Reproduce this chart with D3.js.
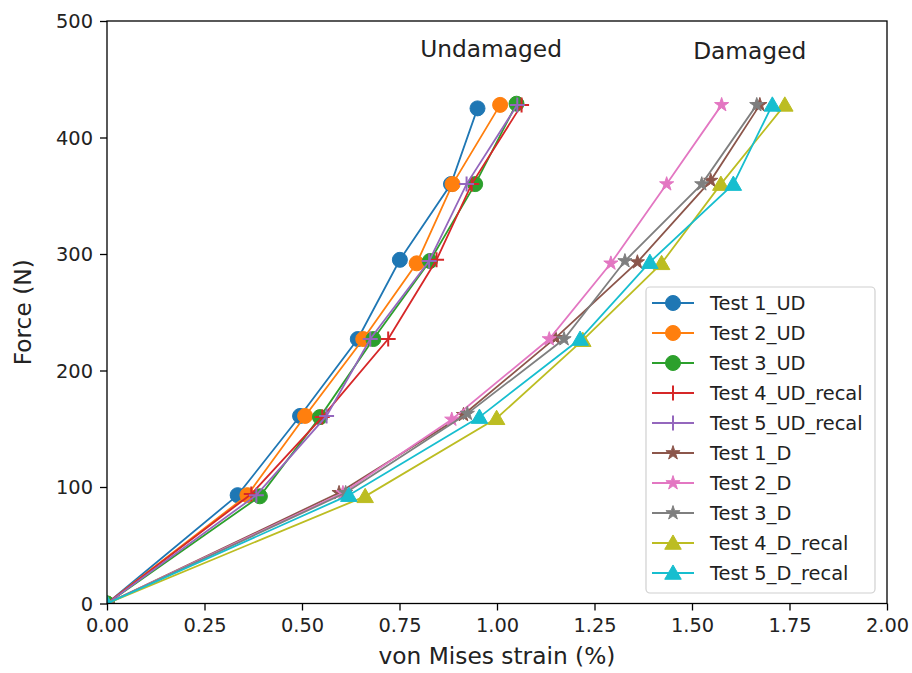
<!DOCTYPE html>
<html>
<head>
<meta charset="utf-8">
<script src="https://cdn.jsdelivr.net/npm/d3@7"></script>
<style>
  html, body { margin: 0; padding: 0; background: #fff; }
  svg { display: block; font-family: "DejaVu Sans", sans-serif; }
</style>
</head>
<body>
<svg id="chart" width="912" height="673"></svg>
<script>
// ---- data ----
const seriesNames = ["Test 1_UD", "Test 2_UD", "Test 3_UD", "Test 4_UD_recal", "Test 5_UD_recal",
                     "Test 1_D", "Test 2_D", "Test 3_D", "Test 4_D_recal", "Test 5_D_recal"];
const seriesColors = ["#1f77b4", "#ff7f0e", "#2ca02c", "#d62728", "#9467bd",
                      "#8c564b", "#e377c2", "#7f7f7f", "#bcbd22", "#17becf"];
const seriesMarkers = ["circle", "circle", "circle", "plus", "plus",
                       "star", "star", "star", "triangle", "triangle"];

const strain1UD = [0, 0.335, 0.495, 0.643, 0.751, 0.882, 0.950];
const force1UD  = [0, 93, 161, 227, 295, 360, 425];
const strain2UD = [0, 0.360, 0.508, 0.657, 0.794, 0.886, 1.008];
const force2UD  = [0, 93, 161, 227, 292, 360, 428];
const strain3UD = [0, 0.392, 0.546, 0.683, 0.828, 0.944, 1.050];
const force3UD  = [0, 92, 160, 227, 294, 360, 429];
const strain4UD = [0, 0.370, 0.552, 0.721, 0.845, 0.935, 1.063];
const force4UD  = [0, 94, 160, 227, 295, 360, 428];
const strain5UD = [0, 0.383, 0.563, 0.675, 0.826, 0.922, 1.052];
const force5UD  = [0, 93, 161, 227, 294, 360, 428];

const strain1D = [0, 0.595, 0.914, 1.150, 1.360, 1.548, 1.674];
const force1D  = [0, 95, 162, 228, 293, 363, 428];
const strain2D = [0, 0.605, 0.884, 1.134, 1.292, 1.435, 1.576];
const force2D  = [0, 95, 158, 227, 292, 360, 428];
const strain3D = [0, 0.612, 0.924, 1.172, 1.328, 1.525, 1.666];
const force3D  = [0, 95, 163, 227, 294, 360, 428];
const strain4D = [0, 0.662, 0.999, 1.220, 1.422, 1.574, 1.738];
const force4D  = [0, 92, 159, 226, 292, 360, 428];
const strain5D = [0, 0.620, 0.955, 1.213, 1.392, 1.606, 1.706];
const force5D  = [0, 93, 160, 227, 293, 360, 428];

const xTicks = [0, 0.25, 0.5, 0.75, 1.0, 1.25, 1.5, 1.75, 2.0];
const yTicks = [0, 100, 200, 300, 400, 500];
const annotations = [
  { text: "Undamaged", x: 0.803, y: 469 },
  { text: "Damaged", x: 1.503, y: 467 }
];

const strains = [strain1UD, strain2UD, strain3UD, strain4UD, strain5UD,
                 strain1D, strain2D, strain3D, strain4D, strain5D];
const forces = [force1UD, force2UD, force3UD, force4UD, force5UD,
                force1D, force2D, force3D, force4D, force5D];

// ---- layout ----
const svg = d3.select("#chart");
const M = { left: 107, right: 887, top: 21, bottom: 603.5 };
const x = d3.scaleLinear().domain([0, 2]).range([M.left, M.right]);
const y = d3.scaleLinear().domain([0, 500]).range([M.bottom, M.top]);
const tickFont = "19.4px", labelFont = "23.3px";

svg.append("defs").append("clipPath").attr("id", "clip")
  .append("rect").attr("x", M.left).attr("y", M.top)
  .attr("width", M.right - M.left).attr("height", M.bottom - M.top);

function markerPath(type) {
  if (type === "circle") return d3.symbol(d3.symbolCircle, Math.PI * 7.5 * 7.5)();
  if (type === "star") return d3.symbol(d3.symbolStar, 62)();
  if (type === "triangle") return d3.symbol(d3.symbolTriangle, 118)();
  return null;
}

function drawMarker(g, type, color) {
  if (type === "plus") {
    g.append("path").attr("d", "M-7.5,0H7.5M0,-7.5V7.5")
      .attr("stroke", color).attr("stroke-width", 2).attr("fill", "none");
  } else {
    const p = g.append("path").attr("d", markerPath(type)).attr("fill", color).attr("stroke", color).attr("stroke-width", 1);
    if (type === "triangle") p.attr("transform", "translate(0,1.5)");
  }
}

// ---- series ----
const plot = svg.append("g").attr("clip-path", "url(#clip)");
const line = d3.line().x(d => x(d[0])).y(d => y(d[1]));
seriesNames.forEach((name, i) => {
  const pts = strains[i].map((s, k) => [s, forces[i][k]]);
  const g = plot.append("g");
  g.append("path").datum(pts).attr("d", line)
    .attr("fill", "none").attr("stroke", seriesColors[i]).attr("stroke-width", 1.8);
  pts.forEach(p => {
    const mg = g.append("g").attr("transform", `translate(${x(p[0])},${y(p[1])})`);
    drawMarker(mg, seriesMarkers[i], seriesColors[i]);
  });
});

// ---- axes ----
const fmtX = d3.format(".2f");
const xAxis = d3.axisBottom(x).tickValues(xTicks).tickFormat(fmtX).tickSizeOuter(0).tickSize(7).tickPadding(7);
const yAxis = d3.axisLeft(y).tickValues(yTicks).tickFormat(d3.format("d")).tickSizeOuter(0).tickSize(7).tickPadding(7);

const gx = svg.append("g").attr("transform", `translate(0,${M.bottom})`).call(xAxis);
const gy = svg.append("g").attr("transform", `translate(${M.left},0)`).call(yAxis);
[gx, gy].forEach(g => {
  g.select(".domain").remove();
  g.selectAll(".tick line").attr("stroke", "#000").attr("stroke-width", 1.3);
  g.selectAll(".tick text").attr("fill", "#222").style("font-size", tickFont).style("font-family", "DejaVu Sans");
});
gx.selectAll(".tick text").attr("dy", "0.76em");
gy.selectAll(".tick text").attr("dy", "0.36em");

// frame
svg.append("rect").attr("x", M.left).attr("y", M.top)
  .attr("width", M.right - M.left).attr("height", M.bottom - M.top)
  .attr("fill", "none").attr("stroke", "#000").attr("stroke-width", 1.3);

// axis labels
svg.append("text").attr("x", (M.left + M.right) / 2).attr("y", 664)
  .attr("text-anchor", "middle").attr("fill", "#222").style("font-size", labelFont)
  .text("von Mises strain (%)");
svg.append("text").attr("transform", `translate(30.5,${(M.top + M.bottom) / 2}) rotate(-90)`)
  .attr("text-anchor", "middle").attr("fill", "#222").style("font-size", labelFont)
  .text("Force (N)");

// annotations
annotations.forEach(a => {
  svg.append("text").attr("x", x(a.x)).attr("y", y(a.y))
    .attr("fill", "#222").style("font-size", labelFont).text(a.text);
});

// ---- legend ----
const lg = svg.append("g");
lg.append("rect").attr("x", 646).attr("y", 287).attr("width", 229).attr("height", 306)
  .attr("rx", 4).attr("fill", "#fff").attr("fill-opacity", 0.85)
  .attr("stroke", "#d0d0d0").attr("stroke-width", 1.2);
seriesNames.forEach((name, i) => {
  const cy = 303 + i * 30;
  const row = lg.append("g");
  row.append("line").attr("x1", 652).attr("x2", 694).attr("y1", cy).attr("y2", cy)
    .attr("stroke", seriesColors[i]).attr("stroke-width", 1.8);
  const mg = row.append("g").attr("transform", `translate(673,${cy})`);
  drawMarker(mg, seriesMarkers[i], seriesColors[i]);
  row.append("text").attr("x", 710).attr("y", cy).attr("dy", "0.36em")
    .attr("fill", "#222").style("font-size", tickFont).text(name);
});
</script>
</body>
</html>
